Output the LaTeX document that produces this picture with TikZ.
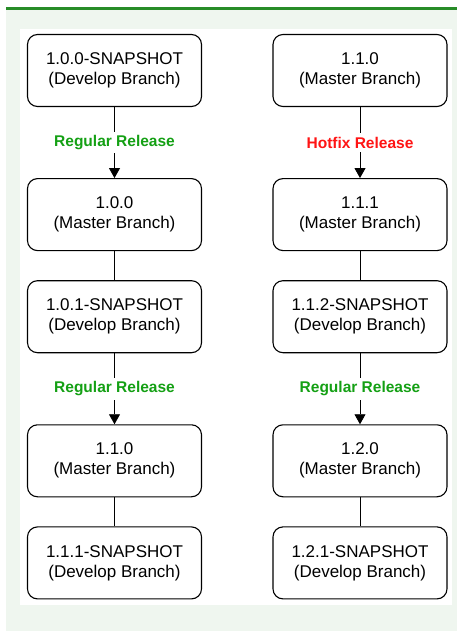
\documentclass[tikz,border=0pt]{standalone}
\usepackage{fontspec}
\setmainfont{Liberation Sans}
\usetikzlibrary{positioning,arrows.meta}
\definecolor{barcol}{RGB}{40,140,40}
\definecolor{bgcol}{RGB}{239,246,239}
\definecolor{regcol}{RGB}{20,160,20}
\definecolor{hotcol}{RGB}{255,20,20}
\pgfmathsetmacro{\boxwd}{174}
\pgfmathsetmacro{\boxht}{72}
\pgfmathsetmacro{\relgap}{71}
\pgfmathsetmacro{\devgap}{29}
\tikzset{
  version/.style={draw, rounded corners=10pt, line width=1.1pt, align=center,
    minimum width=\boxwd pt, minimum height=\boxht pt, inner sep=0pt,
    font=\fontsize{17}{20}\selectfont},
  release/.style={fill=white, inner sep=3.5pt, font=\fontsize{15.5}{18}\selectfont\bfseries},
  promote/.style={line width=0.9pt, -{Triangle[width=11pt,length=10pt]}},
  follow/.style={line width=0.9pt},
}

\begin{document}
\begin{tikzpicture}
    % page, top bar and panel
    \useasboundingbox (0,0) rectangle (457pt,-631pt);
    \fill[bgcol] (6pt,-10.5pt) rectangle (457pt,-631pt);
    \fill[barcol] (6pt,-7pt) rectangle (457pt,-10.5pt);
    \fill[white] (20pt,-29pt) rectangle (452pt,-605pt);
    % define versions
    % regular releases
    \node[version] (dev_100) at (114.5pt,-70.5pt) {1.0.0-SNAPSHOT\\(Develop Branch)};
    \node[version, below=\relgap pt of dev_100] (master_100) {1.0.0\\(Master Branch)};
    \node[version, below=\devgap pt of master_100] (dev_101) {1.0.1-SNAPSHOT\\(Develop Branch)};
    \node[version, below=\relgap pt of dev_101] (master_110) {1.1.0\\(Master Branch)};
    \node[version, below=\devgap pt of master_110] (dev_111) {1.1.1-SNAPSHOT\\(Develop Branch)};
    % hotfix release
    \node[version] (hf_master_110) at (360pt,-70.5pt) {1.1.0\\(Master Branch)};
    \node[version, below=\relgap pt of hf_master_110] (hf_master_111) {1.1.1\\(Master Branch)};
    \node[version, below=\devgap pt of hf_master_111] (hf_dev_112) {1.1.2-SNAPSHOT\\(Develop Branch)};
    \node[version, below=\relgap pt of hf_dev_112] (hf_master_120) {1.2.0\\(Master Branch)};
    \node[version, below=\devgap pt of hf_master_120] (hf_dev_121) {1.2.1-SNAPSHOT\\(Develop Branch)};
    % draw connections
    \draw[promote] (dev_100) -- node[release, text=regcol] {Regular Release} (master_100);
    \draw[follow] (master_100) -- (dev_101);
    \draw[promote] (dev_101) -- node[release, text=regcol] {Regular Release} (master_110);
    \draw[follow] (master_110) -- (dev_111);
    \draw[promote] (hf_master_110) -- node[release, text=hotcol] {Hotfix Release} (hf_master_111);
    \draw[follow] (hf_master_111) -- (hf_dev_112);
    \draw[promote] (hf_dev_112) -- node[release, text=regcol] {Regular Release} (hf_master_120);
    \draw[follow] (hf_master_120) -- (hf_dev_121);
\end{tikzpicture}
\end{document}
